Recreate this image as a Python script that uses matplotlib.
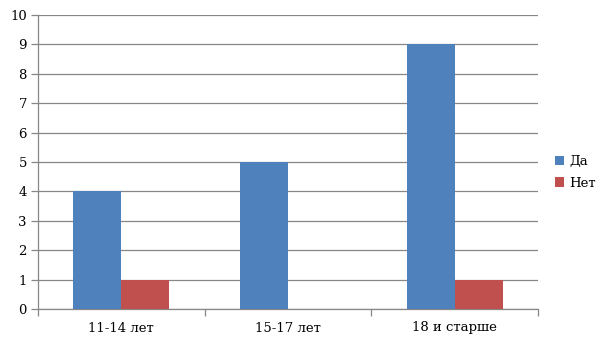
import numpy as np
import matplotlib.pyplot as plt

categories = ['11-14 лет', '15-17 лет', '18 и старше']
yes_values = [4, 5, 9]
no_values = [1, 0, 1]
series_names = ['Да', 'Нет']

plt.rcParams['font.family'] = 'DejaVu Serif'

fig = plt.figure(figsize=(6.05, 3.4), dpi=100)
ax = fig.add_axes([38 / 605, 31 / 340, 500 / 605, 294 / 340])

x = np.arange(len(categories))
w = 0.288
grid_col = '#878787'

ax.bar(x - w / 2, yes_values, width=w, color='#4F81BD', label=series_names[0], zorder=3)
ax.bar(x + w / 2, no_values, width=w, color='#C0504D', label=series_names[1], zorder=3)

ax.set_xlim(-0.5, len(categories) - 0.5)
ax.set_ylim(0, 10)
ax.set_yticks(range(0, 11))
ax.yaxis.grid(True, color=grid_col, linewidth=0.9, zorder=0)

ax.set_xticks(x)
ax.set_xticklabels(categories)
ax.set_xticks(np.arange(-0.5, len(categories)), minor=True)
ax.tick_params(axis='x', which='major', length=0, pad=9, labelsize=9.5)
ax.tick_params(axis='x', which='minor', length=5, color=grid_col, width=0.9)
ax.tick_params(axis='y', length=5, color=grid_col, width=0.9, labelsize=9.5, pad=3)

for s in ['top', 'right']:
    ax.spines[s].set_visible(False)
for s in ['left', 'bottom']:
    ax.spines[s].set_color(grid_col)
    ax.spines[s].set_linewidth(0.9)

ax.legend(loc='center left', bbox_to_anchor=(1.01, 0.465), frameon=False,
          fontsize=9.5, handlelength=0.7, handleheight=0.7, handletextpad=0.4,
          labelspacing=0.65)

fig.savefig('out.png', dpi=100)
